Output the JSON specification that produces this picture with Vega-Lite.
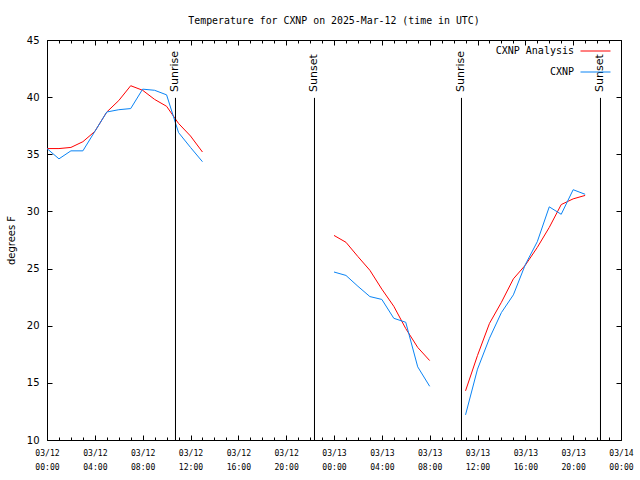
{
  "$schema": "https://vega.github.io/schema/vega-lite/v6.json",
  "width": 574,
  "height": 400,
  "autosize": "none",
  "padding": {"left": 47, "top": 40, "right": 19, "bottom": 40},
  "background": "white",
  "config": {
    "view": {"stroke": "black", "strokeWidth": 1},
    "axis": {"grid": false, "domain": false, "tickColor": "black", "labelColor": "black", "titleColor": "black"}
  },
  "title": {"text": "Temperature for CXNP on 2025-Mar-12 (time in UTC)", "font": "DejaVu Sans Mono", "fontSize": 9.9, "fontWeight": "normal", "color": "black", "offset": 9, "anchor": "middle"},
  "datasets": {
    "temps": [
      {"t": "2025-03-12T00:00:00Z", "series": "CXNP Analysis", "seg": 1, "temp": 35.5},
      {"t": "2025-03-12T01:00:00Z", "series": "CXNP Analysis", "seg": 1, "temp": 35.5},
      {"t": "2025-03-12T02:00:00Z", "series": "CXNP Analysis", "seg": 1, "temp": 35.6},
      {"t": "2025-03-12T03:00:00Z", "series": "CXNP Analysis", "seg": 1, "temp": 36.1},
      {"t": "2025-03-12T04:00:00Z", "series": "CXNP Analysis", "seg": 1, "temp": 37.0},
      {"t": "2025-03-12T05:00:00Z", "series": "CXNP Analysis", "seg": 1, "temp": 38.7},
      {"t": "2025-03-12T06:00:00Z", "series": "CXNP Analysis", "seg": 1, "temp": 39.7},
      {"t": "2025-03-12T07:00:00Z", "series": "CXNP Analysis", "seg": 1, "temp": 41.0},
      {"t": "2025-03-12T08:00:00Z", "series": "CXNP Analysis", "seg": 1, "temp": 40.6},
      {"t": "2025-03-12T09:00:00Z", "series": "CXNP Analysis", "seg": 1, "temp": 39.8},
      {"t": "2025-03-12T10:00:00Z", "series": "CXNP Analysis", "seg": 1, "temp": 39.2},
      {"t": "2025-03-12T11:00:00Z", "series": "CXNP Analysis", "seg": 1, "temp": 37.7},
      {"t": "2025-03-12T12:00:00Z", "series": "CXNP Analysis", "seg": 1, "temp": 36.6},
      {"t": "2025-03-12T13:00:00Z", "series": "CXNP Analysis", "seg": 1, "temp": 35.2},
      {"t": "2025-03-13T00:00:00Z", "series": "CXNP Analysis", "seg": 2, "temp": 27.9},
      {"t": "2025-03-13T01:00:00Z", "series": "CXNP Analysis", "seg": 2, "temp": 27.3},
      {"t": "2025-03-13T02:00:00Z", "series": "CXNP Analysis", "seg": 2, "temp": 26.05},
      {"t": "2025-03-13T03:00:00Z", "series": "CXNP Analysis", "seg": 2, "temp": 24.85},
      {"t": "2025-03-13T04:00:00Z", "series": "CXNP Analysis", "seg": 2, "temp": 23.2},
      {"t": "2025-03-13T05:00:00Z", "series": "CXNP Analysis", "seg": 2, "temp": 21.7},
      {"t": "2025-03-13T06:00:00Z", "series": "CXNP Analysis", "seg": 2, "temp": 19.75},
      {"t": "2025-03-13T07:00:00Z", "series": "CXNP Analysis", "seg": 2, "temp": 18.1},
      {"t": "2025-03-13T08:00:00Z", "series": "CXNP Analysis", "seg": 2, "temp": 16.95},
      {"t": "2025-03-13T11:00:00Z", "series": "CXNP Analysis", "seg": 3, "temp": 14.3},
      {"t": "2025-03-13T12:00:00Z", "series": "CXNP Analysis", "seg": 3, "temp": 17.4},
      {"t": "2025-03-13T13:00:00Z", "series": "CXNP Analysis", "seg": 3, "temp": 20.2},
      {"t": "2025-03-13T14:00:00Z", "series": "CXNP Analysis", "seg": 3, "temp": 22.05},
      {"t": "2025-03-13T15:00:00Z", "series": "CXNP Analysis", "seg": 3, "temp": 24.1},
      {"t": "2025-03-13T16:00:00Z", "series": "CXNP Analysis", "seg": 3, "temp": 25.3},
      {"t": "2025-03-13T17:00:00Z", "series": "CXNP Analysis", "seg": 3, "temp": 26.85},
      {"t": "2025-03-13T18:00:00Z", "series": "CXNP Analysis", "seg": 3, "temp": 28.6},
      {"t": "2025-03-13T19:00:00Z", "series": "CXNP Analysis", "seg": 3, "temp": 30.6},
      {"t": "2025-03-13T20:00:00Z", "series": "CXNP Analysis", "seg": 3, "temp": 31.1},
      {"t": "2025-03-13T21:00:00Z", "series": "CXNP Analysis", "seg": 3, "temp": 31.4},
      {"t": "2025-03-12T00:00:00Z", "series": "CXNP", "seg": 1, "temp": 35.5},
      {"t": "2025-03-12T01:00:00Z", "series": "CXNP", "seg": 1, "temp": 34.6},
      {"t": "2025-03-12T02:00:00Z", "series": "CXNP", "seg": 1, "temp": 35.3},
      {"t": "2025-03-12T03:00:00Z", "series": "CXNP", "seg": 1, "temp": 35.3},
      {"t": "2025-03-12T04:00:00Z", "series": "CXNP", "seg": 1, "temp": 37.0},
      {"t": "2025-03-12T05:00:00Z", "series": "CXNP", "seg": 1, "temp": 38.7},
      {"t": "2025-03-12T06:00:00Z", "series": "CXNP", "seg": 1, "temp": 38.9},
      {"t": "2025-03-12T07:00:00Z", "series": "CXNP", "seg": 1, "temp": 39.0},
      {"t": "2025-03-12T08:00:00Z", "series": "CXNP", "seg": 1, "temp": 40.7},
      {"t": "2025-03-12T09:00:00Z", "series": "CXNP", "seg": 1, "temp": 40.6},
      {"t": "2025-03-12T10:00:00Z", "series": "CXNP", "seg": 1, "temp": 40.2},
      {"t": "2025-03-12T11:00:00Z", "series": "CXNP", "seg": 1, "temp": 36.9},
      {"t": "2025-03-12T12:00:00Z", "series": "CXNP", "seg": 1, "temp": 35.6},
      {"t": "2025-03-12T13:00:00Z", "series": "CXNP", "seg": 1, "temp": 34.35},
      {"t": "2025-03-13T00:00:00Z", "series": "CXNP", "seg": 2, "temp": 24.7},
      {"t": "2025-03-13T01:00:00Z", "series": "CXNP", "seg": 2, "temp": 24.4},
      {"t": "2025-03-13T02:00:00Z", "series": "CXNP", "seg": 2, "temp": 23.45},
      {"t": "2025-03-13T03:00:00Z", "series": "CXNP", "seg": 2, "temp": 22.55},
      {"t": "2025-03-13T04:00:00Z", "series": "CXNP", "seg": 2, "temp": 22.3},
      {"t": "2025-03-13T05:00:00Z", "series": "CXNP", "seg": 2, "temp": 20.65},
      {"t": "2025-03-13T06:00:00Z", "series": "CXNP", "seg": 2, "temp": 20.3},
      {"t": "2025-03-13T07:00:00Z", "series": "CXNP", "seg": 2, "temp": 16.4},
      {"t": "2025-03-13T08:00:00Z", "series": "CXNP", "seg": 2, "temp": 14.7},
      {"t": "2025-03-13T11:00:00Z", "series": "CXNP", "seg": 3, "temp": 12.2},
      {"t": "2025-03-13T12:00:00Z", "series": "CXNP", "seg": 3, "temp": 16.2},
      {"t": "2025-03-13T13:00:00Z", "series": "CXNP", "seg": 3, "temp": 18.9},
      {"t": "2025-03-13T14:00:00Z", "series": "CXNP", "seg": 3, "temp": 21.15},
      {"t": "2025-03-13T15:00:00Z", "series": "CXNP", "seg": 3, "temp": 22.7},
      {"t": "2025-03-13T16:00:00Z", "series": "CXNP", "seg": 3, "temp": 25.35},
      {"t": "2025-03-13T17:00:00Z", "series": "CXNP", "seg": 3, "temp": 27.35},
      {"t": "2025-03-13T18:00:00Z", "series": "CXNP", "seg": 3, "temp": 30.4},
      {"t": "2025-03-13T19:00:00Z", "series": "CXNP", "seg": 3, "temp": 29.75},
      {"t": "2025-03-13T20:00:00Z", "series": "CXNP", "seg": 3, "temp": 31.9},
      {"t": "2025-03-13T21:00:00Z", "series": "CXNP", "seg": 3, "temp": 31.5}
    ],
    "events": [
      {"t": "2025-03-12T10:44:44Z", "label": "Sunrise"},
      {"t": "2025-03-12T22:22:08Z", "label": "Sunset"},
      {"t": "2025-03-13T10:39:43Z", "label": "Sunrise"},
      {"t": "2025-03-13T22:17:08Z", "label": "Sunset"}
    ]
  },
  "layer": [
    {
      "data": {"name": "temps"},
      "mark": {"type": "line", "strokeWidth": 1, "interpolate": "linear"},
      "encoding": {
        "x": {
          "field": "t", "type": "temporal",
          "scale": {"type": "utc", "domain": [{"year": 2025, "month": 3, "date": 12, "hours": 0, "utc": true}, {"year": 2025, "month": 3, "date": 14, "hours": 0, "utc": true}], "nice": false},
          "axis": {
            "orient": "bottom", "title": null,
            "values": [
              {"year": 2025, "month": 3, "date": 12, "hours": 0, "utc": true},
              {"year": 2025, "month": 3, "date": 12, "hours": 4, "utc": true},
              {"year": 2025, "month": 3, "date": 12, "hours": 8, "utc": true},
              {"year": 2025, "month": 3, "date": 12, "hours": 12, "utc": true},
              {"year": 2025, "month": 3, "date": 12, "hours": 16, "utc": true},
              {"year": 2025, "month": 3, "date": 12, "hours": 20, "utc": true},
              {"year": 2025, "month": 3, "date": 13, "hours": 0, "utc": true},
              {"year": 2025, "month": 3, "date": 13, "hours": 4, "utc": true},
              {"year": 2025, "month": 3, "date": 13, "hours": 8, "utc": true},
              {"year": 2025, "month": 3, "date": 13, "hours": 12, "utc": true},
              {"year": 2025, "month": 3, "date": 13, "hours": 16, "utc": true},
              {"year": 2025, "month": 3, "date": 13, "hours": 20, "utc": true},
              {"year": 2025, "month": 3, "date": 14, "hours": 0, "utc": true}
            ],
            "tickSize": -5,
            "labelExpr": "[utcFormat(datum.value, '%m/%d'), utcFormat(datum.value, '%H:%M')]",
            "labelFont": "DejaVu Sans Mono", "labelFontSize": 8.1, "labelLineHeight": 14,
            "labelPadding": 14, "labelOverlap": false, "labelFlush": false, "labelBound": false, "labelAngle": 0
          }
        },
        "y": {
          "field": "temp", "type": "quantitative",
          "scale": {"domain": [10, 45], "nice": false, "zero": false},
          "axis": {
            "orient": "left", "title": "degrees F", "values": [10, 15, 20, 25, 30, 35, 40, 45],
            "tickSize": -5, "labelPadding": 13,
            "labelFont": "DejaVu Sans", "labelFontSize": 10,
            "titleFont": "DejaVu Sans", "titleFontSize": 10, "titleFontWeight": "normal", "titlePadding": 10
          }
        },
        "color": {
          "field": "series", "type": "nominal",
          "scale": {"domain": ["CXNP Analysis", "CXNP"], "range": ["#ff0000", "#0a84f5"]},
          "legend": {
            "orient": "none", "legendX": 533, "legendY": -4.5, "title": null,
            "symbolType": "stroke", "symbolSize": 900, "symbolStrokeWidth": 1,
            "labelAlign": "right", "labelOffset": -37, "rowPadding": -26,
            "labelFont": "DejaVu Sans Mono", "labelFontSize": 10,
            "labelColor": "black"
          }
        },
        "detail": {"field": "seg", "type": "nominal"}
      }
    },
    {
      "data": {"name": "events"},
      "mark": {"type": "rule", "color": "black", "strokeWidth": 1},
      "encoding": {
        "x": {
          "field": "t", "type": "temporal",
          "axis": {
            "orient": "top", "title": null, "labels": false,
            "values": [
              {"year": 2025, "month": 3, "date": 12, "hours": 0, "utc": true},
              {"year": 2025, "month": 3, "date": 12, "hours": 4, "utc": true},
              {"year": 2025, "month": 3, "date": 12, "hours": 8, "utc": true},
              {"year": 2025, "month": 3, "date": 12, "hours": 12, "utc": true},
              {"year": 2025, "month": 3, "date": 12, "hours": 16, "utc": true},
              {"year": 2025, "month": 3, "date": 12, "hours": 20, "utc": true},
              {"year": 2025, "month": 3, "date": 13, "hours": 0, "utc": true},
              {"year": 2025, "month": 3, "date": 13, "hours": 4, "utc": true},
              {"year": 2025, "month": 3, "date": 13, "hours": 8, "utc": true},
              {"year": 2025, "month": 3, "date": 13, "hours": 12, "utc": true},
              {"year": 2025, "month": 3, "date": 13, "hours": 16, "utc": true},
              {"year": 2025, "month": 3, "date": 13, "hours": 20, "utc": true},
              {"year": 2025, "month": 3, "date": 14, "hours": 0, "utc": true}
            ],
            "tickSize": -5
          }
        },
        "y": {
          "datum": 10, "type": "quantitative",
          "axis": {"orient": "right", "title": null, "labels": false, "values": [10, 15, 20, 25, 30, 35, 40, 45], "tickSize": -5}
        },
        "y2": {"datum": 39.93}
      }
    },
    {
      "data": {"name": "events"},
      "mark": {"type": "text", "angle": 270, "align": "left", "baseline": "middle", "font": "DejaVu Sans", "fontSize": 11, "color": "black"},
      "encoding": {
        "x": {
          "field": "t", "type": "temporal",
          "axis": {"orient": "bottom", "title": null, "labels": false, "tickCount": 48, "tickSize": -3}
        },
        "y": {"datum": 40.45, "type": "quantitative", "axis": null},
        "text": {"field": "label"}
      }
    },
    {
      "data": {"name": "events"},
      "mark": {"type": "rule", "color": "black", "strokeWidth": 1},
      "encoding": {
        "x": {
          "field": "t", "type": "temporal",
          "axis": {"orient": "top", "title": null, "labels": false, "tickCount": 48, "tickSize": -3}
        },
        "y": {"datum": 10, "type": "quantitative", "axis": null},
        "y2": {"datum": 39.93}
      }
    }
  ],
  "resolve": {"axis": {"x": "independent", "y": "independent"}}
}
